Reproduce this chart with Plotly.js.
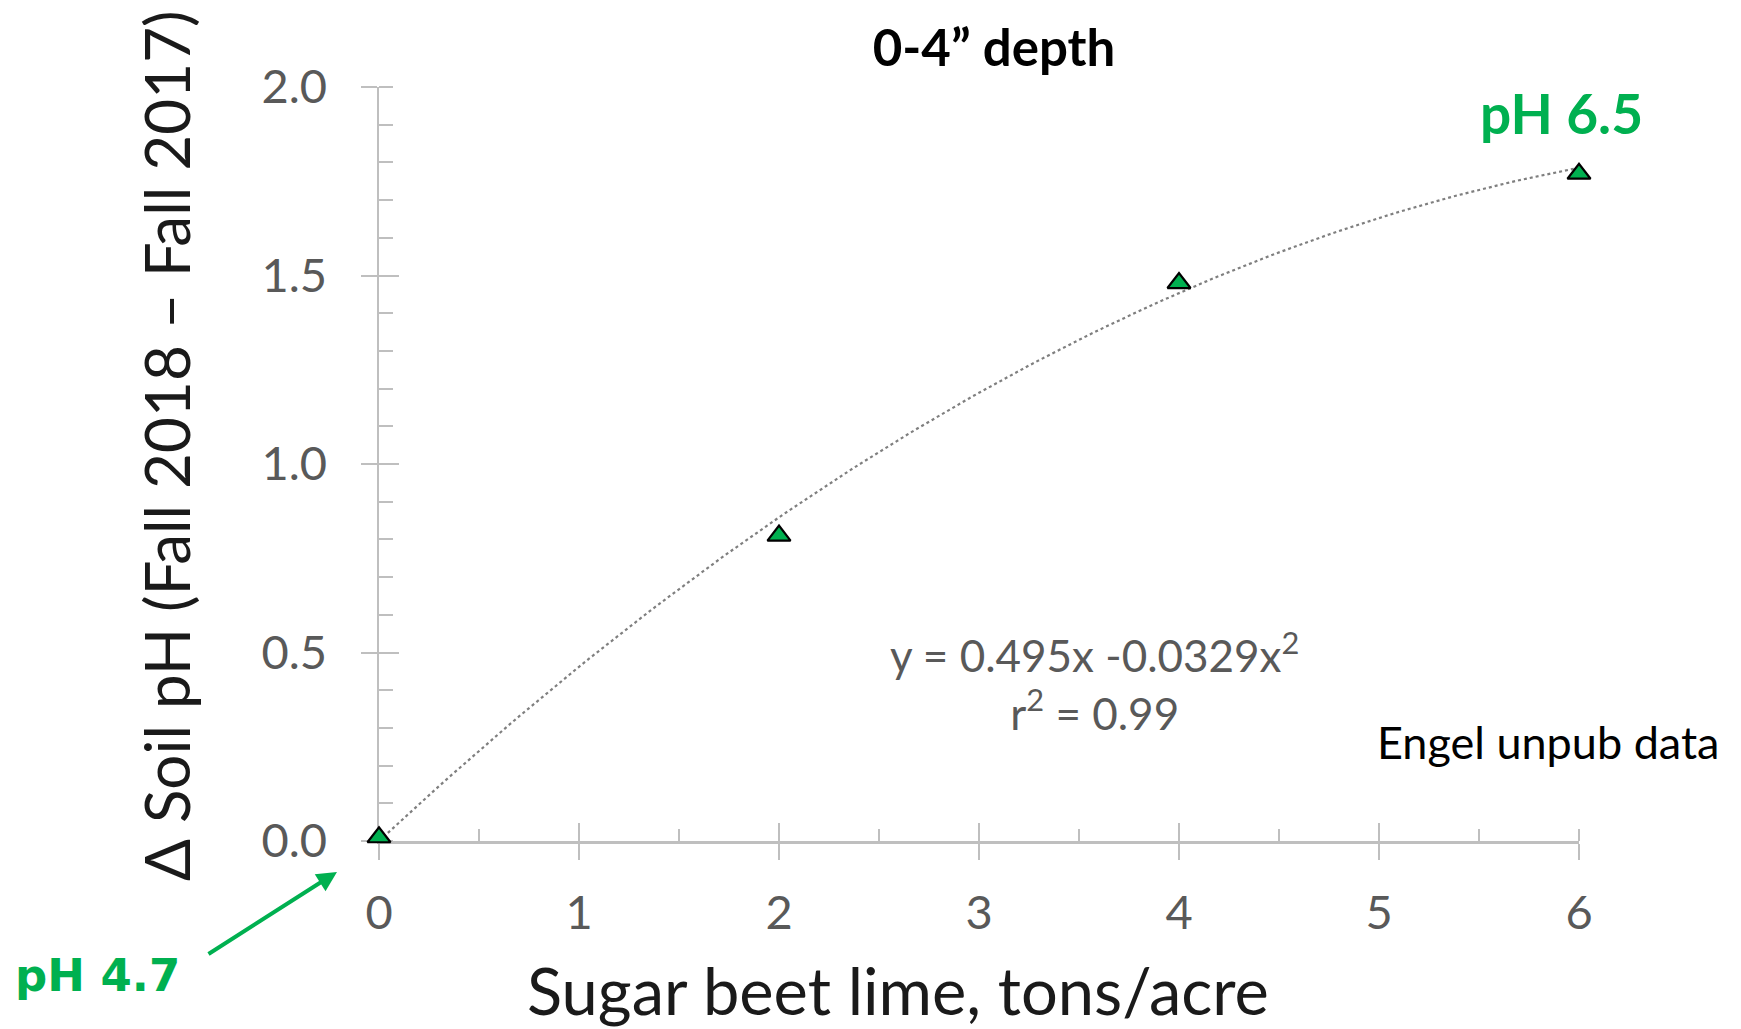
<!DOCTYPE html>
<html>
<head>
<meta charset="utf-8">
<script src="https://cdn.plot.ly/plotly-3.0.1.min.js"></script>
<style>
  html, body { margin: 0; padding: 0; background: #ffffff; }
  #chart { width: 1741px; height: 1029px; }
</style>
</head>
<body>
<div id="chart"></div>
<script>
// Sugar beet lime rate (tons/acre) and change in soil pH, 0-4" depth
const limeRate = [0, 2, 4, 6];
const phChange = [0.01, 0.81, 1.48, 1.77];

// Quadratic trendline through the origin: y = b1*x + b2*x^2
const trendCoef = [0.495, -0.0329];
const trendLabel = 'y = 0.495x -0.0329x<sup>2</sup>';
const r2Label = 'r<sup>2</sup> = 0.99';

const xTicks = [0, 1, 2, 3, 4, 5, 6];
const yTicks = [0, 0.5, 1.0, 1.5, 2.0];
const yTickText = ['0.0', '0.5', '1.0', '1.5', '2.0'];

// sample the fitted curve across the lime range
const trendX = [];
const trendY = [];
for (let i = 0; i <= 120; i++) {
  const x = limeRate[0] + (limeRate[limeRate.length - 1] - limeRate[0]) * i / 120;
  trendX.push(x);
  trendY.push(trendCoef[0] * x + trendCoef[1] * x * x);
}

const W = 1741, H = 1029;
const margin = { l: 379, r: 162, t: 87, b: 188 };
const plotW = W - margin.l - margin.r;
const plotH = H - margin.t - margin.b;
// pixel position on the page -> paper fraction
const px = v => (v - margin.l) / plotW;
const py = v => (H - margin.b - v) / plotH;

const axisGray = '#bfbfbf';
const sans = 'Lato, "Open Sans", sans-serif';
const tickFont = { family: sans, size: 47, color: '#595959' };
const green = '#00b050';

const traces = [
  {
    x: trendX, y: trendY, type: 'scatter', mode: 'lines',
    line: { color: '#7f7f7f', width: 2.2, dash: 'dot' },
    hoverinfo: 'skip', cliponaxis: false
  },
  {
    x: limeRate, y: phChange, type: 'scatter', mode: 'markers',
    marker: { symbol: 'triangle-up', size: 20, color: green, line: { color: '#000000', width: 2.2 } },
    cliponaxis: false
  },
  // invisible helper so the second axis pair (inner half of major ticks) is drawn
  { x: [limeRate[0]], y: [phChange[0]], xaxis: 'x2', yaxis: 'y2', type: 'scatter', mode: 'markers',
    marker: { opacity: 0 }, hoverinfo: 'skip' }
];

const layout = {
  width: W, height: H,
  paper_bgcolor: '#ffffff', plot_bgcolor: '#ffffff',
  showlegend: false,
  margin: margin,
  title: {
    text: '<b>0-4\u201D depth</b>',
    font: { family: sans, size: 51, color: '#000000' },
    xref: 'container', yref: 'container', x: 994 / W, y: 1 - 48 / H,
    xanchor: 'center', yanchor: 'middle'
  },
  xaxis: {
    range: [0, 6], tickvals: xTicks, ticks: 'outside', ticklen: 16, tickwidth: 2, tickcolor: axisGray,
    showline: true, linecolor: axisGray, linewidth: 2.5, showgrid: false, zeroline: false,
    layer: 'below traces',
    tickfont: tickFont, ticklabelstandoff: 13,
    minor: { dtick: 0.5, ticks: 'inside', ticklen: 12, tickwidth: 2, tickcolor: axisGray }
  },
  yaxis: {
    range: [0, 2], tickvals: yTicks, ticktext: yTickText, ticks: 'outside', ticklen: 16, tickwidth: 2, tickcolor: axisGray,
    showline: true, linecolor: axisGray, linewidth: 2.5, showgrid: false, zeroline: false,
    layer: 'below traces',
    tickfont: tickFont, ticklabelstandoff: 24,
    minor: { dtick: 0.1, ticks: 'inside', ticklen: 14, tickwidth: 2, tickcolor: axisGray }
  },
  // overlay axes carrying the inner half of the major tick marks
  xaxis2: {
    overlaying: 'x', matches: 'x', anchor: 'y2', range: [0, 6], tickvals: xTicks, ticks: 'inside', ticklen: 18, tickwidth: 2,
    tickcolor: axisGray, showticklabels: false, showline: false, showgrid: false, zeroline: false, layer: 'below traces'
  },
  yaxis2: {
    overlaying: 'y', matches: 'y', anchor: 'x2', range: [0, 2], tickvals: yTicks, ticks: 'inside', ticklen: 20, tickwidth: 2,
    tickcolor: axisGray, showticklabels: false, showline: false, showgrid: false, zeroline: false, layer: 'below traces'
  },
  annotations: [
    // axis titles
    {
      x: px(898), y: py(990), xref: 'paper', yref: 'paper', text: 'Sugar beet lime, tons/acre', showarrow: false,
      xanchor: 'center', yanchor: 'middle',
      font: { family: sans, size: 65, color: '#1a1a1a' }
    },
    {
      x: px(166), y: py(446), xref: 'paper', yref: 'paper', text: '\u0394 Soil pH (Fall 2018 \u2013 Fall 2017)',
      showarrow: false, textangle: -90, xanchor: 'center', yanchor: 'middle',
      font: { family: sans, size: 62, color: '#1a1a1a' }
    },
    // fitted equation
    {
      x: px(1094), y: py(681), xref: 'paper', yref: 'paper', text: trendLabel + '<br>' + r2Label, showarrow: false,
      align: 'center', xanchor: 'center', yanchor: 'middle',
      font: { family: sans, size: 44, color: '#595959' }
    },
    {
      x: px(1721), y: py(742), xref: 'paper', yref: 'paper', text: 'Engel unpub data', showarrow: false,
      xanchor: 'right', yanchor: 'middle',
      font: { family: sans, size: 45, color: '#000000' }
    },
    {
      x: px(1561), y: py(113), xref: 'paper', yref: 'paper', text: '<b>pH 6.5</b>', showarrow: false,
      xanchor: 'center', yanchor: 'middle',
      font: { family: sans, size: 55, color: green }
    },
    {
      x: px(97), y: py(975), xref: 'paper', yref: 'paper', text: '<b>pH 4.7</b>', showarrow: false,
      xanchor: 'center', yanchor: 'middle',
      font: { family: '"DejaVu Sans", sans-serif', size: 45, color: green }
    },
    {
      x: px(337), y: py(872), xref: 'paper', yref: 'paper', ax: -130, ay: 83, axref: 'pixel', ayref: 'pixel',
      text: '', showarrow: true, arrowhead: 2, arrowsize: 1, arrowwidth: 4, arrowcolor: green
    }
  ]
};

Plotly.newPlot('chart', traces, layout, { displayModeBar: false, staticPlot: true });
</script>
</body>
</html>
